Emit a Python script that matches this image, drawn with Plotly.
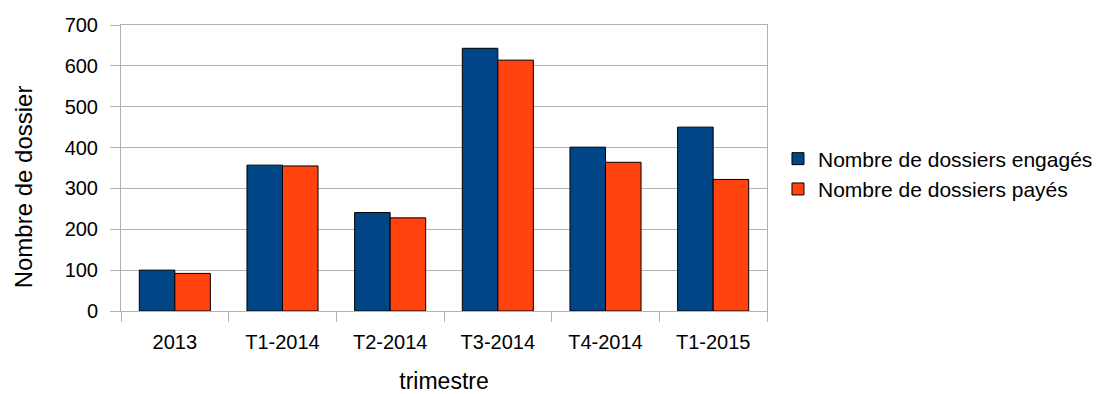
import plotly.graph_objects as go

categories = ["2013", "T1-2014", "T2-2014", "T3-2014", "T4-2014", "T1-2015"]
engages = [100, 357, 241, 643, 401, 450]
payes = [92, 355, 228, 614, 364, 322]
series_names = ["Nombre de dossiers engagés", "Nombre de dossiers payés"]
y_ticks = [0, 100, 200, 300, 400, 500, 600, 700]

FONT = "Liberation Sans, Arial, sans-serif"
GRID = "#b3b3b3"

fig = go.Figure()
fig.add_trace(go.Bar(x=categories, y=engages, name=series_names[0],
                     marker=dict(color="#004586", line=dict(color="#000000", width=1))))
fig.add_trace(go.Bar(x=categories, y=payes, name=series_names[1],
                     marker=dict(color="#ff420e", line=dict(color="#000000", width=1))))

fig.update_layout(
    width=1101, height=394,
    margin=dict(l=121, r=334, t=25, b=83, autoexpand=False),
    paper_bgcolor="white", plot_bgcolor="white",
    font=dict(family=FONT, size=20, color="#000000"),
    barmode="group", bargap=0.34, bargroupgap=0,
    showlegend=True,
    legend=dict(x=1.017, xanchor="left", y=0.479, yanchor="middle",
                font=dict(size=21), tracegroupgap=0, itemwidth=30,
                bgcolor="rgba(0,0,0,0)"),
    annotations=[dict(text="Nombre de dossier", textangle=-90,
                      xref="paper", yref="paper", x=-0.151, y=0.434,
                      xanchor="center", yanchor="middle", showarrow=False,
                      font=dict(size=24, family=FONT, color="#000000"))],
)
fig.update_xaxes(
    title=dict(text="trimestre", font=dict(size=23), standoff=23),
    showline=True, linecolor=GRID, linewidth=1, mirror=True,
    ticks="outside", ticklen=10, tickcolor=GRID, tickson="boundaries",
    ticklabelstandoff=13, showgrid=False, automargin=False,
)
fig.update_yaxes(
    range=[0, 700], tickvals=y_ticks,
    showline=True, linecolor=GRID, linewidth=1, mirror=True,
    ticks="outside", ticklen=10, tickcolor=GRID,
    showgrid=True, gridcolor=GRID, gridwidth=1,
    ticklabelstandoff=8, zeroline=False, automargin=False,
)

fig.write_html("out.html")
